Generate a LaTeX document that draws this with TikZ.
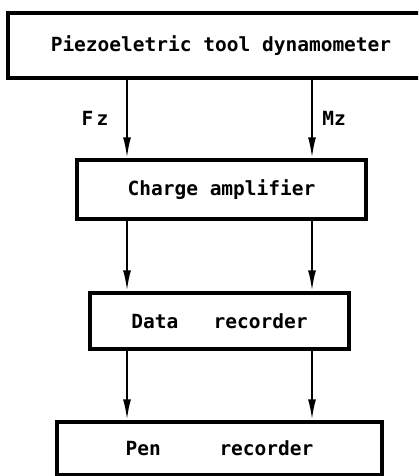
\documentclass[tikz,border=0pt]{standalone}
\usepackage{fontspec}
\setmonofont{DejaVu Sans Mono}
\usetikzlibrary{arrows.meta}

\begin{document}
\begin{tikzpicture}[x=1pt,y=-1pt,
    block/.style={draw,line width=3.5pt,inner sep=0pt,
        font=\ttfamily\bfseries\fontsize{19.5}{20}\selectfont},
    signal/.style={line width=2.2pt,-{Latex[length=21pt,width=8pt]}},
    tag/.style={font=\ttfamily\bfseries\fontsize{19.5}{20}\selectfont}]
    \useasboundingbox (0,0) rectangle (418,476);
    \clip (0,0) rectangle (418,476);
    \node[block,minimum width=426pt,minimum height=65pt] (dyn) at (221,45.5) {Piezoeletric tool dynamometer};
    \node[block,minimum width=289pt,minimum height=59pt] (amp) at (221.5,189.5) {Charge amplifier\hspace{32pt}};
    \node[block,minimum width=259pt,minimum height=56pt] (rec) at (219.5,321) {Data\ \ \ recorder\hspace{17pt}};
    \node[block,minimum width=325pt,minimum height=53pt] (pen) at (219.5,448.5) {Pen\ \ \ \ \ recorder\hspace{12pt}};
    \coordinate (fzline) at (127,0);
    \coordinate (mzline) at (312,0);
    \draw[signal] (dyn.south -| fzline) -- (amp.north -| fzline);
    \draw[signal] (dyn.south -| mzline) -- (amp.north -| mzline);
    \draw[signal] (amp.south -| fzline) -- (rec.north -| fzline);
    \draw[signal] (amp.south -| mzline) -- (rec.north -| mzline);
    \draw[signal] (rec.south -| fzline) -- (pen.north -| fzline);
    \draw[signal] (rec.south -| mzline) -- (pen.north -| mzline);
    \node[tag] (fz) at (95,118) {F\,z};
    \node[tag] (mz) at (334,118) {Mz};
\end{tikzpicture}
\end{document}
